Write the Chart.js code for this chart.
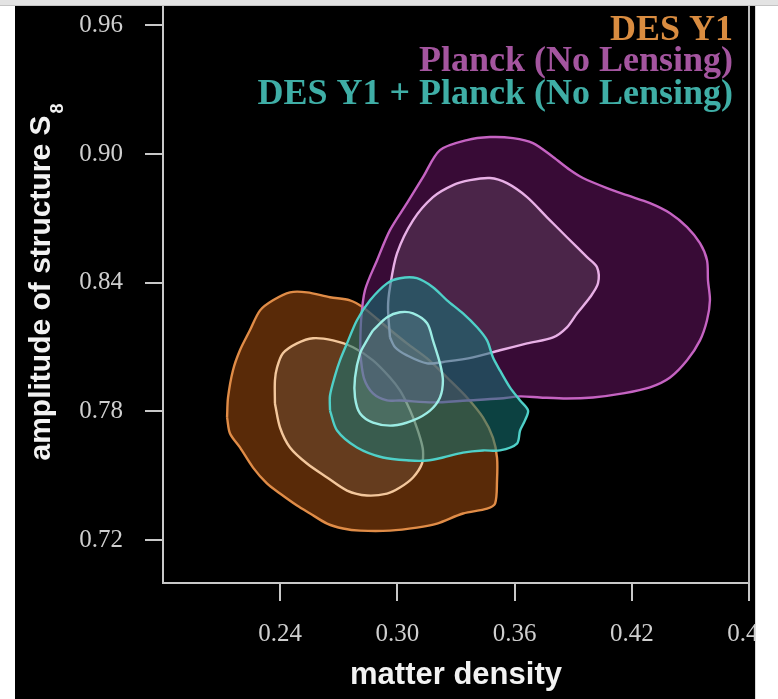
<!DOCTYPE html>
<html><head><meta charset="utf-8">
<script src="https://cdn.jsdelivr.net/npm/chart.js@4.4.1/dist/chart.umd.min.js"></script>
<style>
html,body{margin:0;padding:0;background:#fff;width:778px;height:699px;overflow:hidden;}
#topbar{position:absolute;left:0;top:0;width:778px;height:5px;background:#e3e3e3;border-bottom:1px solid #c4c4c4;}
#panel{position:absolute;left:15px;top:6px;width:740px;height:693px;background:#000;}
#edge{position:absolute;left:755px;top:6px;width:1px;height:693px;background:#d8d8d8;}
</style></head><body>
<div id="topbar"></div>
<div id="panel"><canvas id="c" width="740" height="693"></canvas></div>
<div id="edge"></div>
<script>
// ---- data (matter density, S8) ----
const xTicks = [0.24, 0.30, 0.36, 0.42, 0.48];
const yTicks = [0.72, 0.78, 0.84, 0.90, 0.96];
const legendLabels = ['DES Y1', 'Planck (No Lensing)', 'DES Y1 + Planck (No Lensing)'];

const desOuter = [[0.2128,0.7772],[0.2133,0.7865],[0.2158,0.7991],[0.2194,0.8085],[0.2245,0.8178],[0.2297,0.8271],[0.2363,0.8318],[0.2450,0.8355],[0.2537,0.8355],[0.2655,0.8332],[0.2757,0.8318],[0.2824,0.8285],[0.2947,0.8192],[0.3049,0.8117],[0.3152,0.8047],[0.3254,0.7958],[0.3356,0.7865],[0.3438,0.7772],[0.3489,0.7678],[0.3510,0.7585],[0.3510,0.7478],[0.3500,0.7370],[0.3459,0.7347],[0.3336,0.7324],[0.3203,0.7277],[0.3100,0.7258],[0.2962,0.7244],[0.2809,0.7244],[0.2722,0.7254],[0.2640,0.7277],[0.2553,0.7324],[0.2486,0.7361],[0.2399,0.7417],[0.2332,0.7464],[0.2261,0.7538],[0.2194,0.7632],[0.2143,0.7697]];
const desInner = [[0.2373,0.7837],[0.2373,0.7944],[0.2384,0.8005],[0.2414,0.8071],[0.2486,0.8117],[0.2568,0.8141],[0.2670,0.8131],[0.2773,0.8099],[0.2875,0.8038],[0.2962,0.7958],[0.3013,0.7898],[0.3049,0.7837],[0.3080,0.7772],[0.3116,0.7678],[0.3131,0.7618],[0.3126,0.7557],[0.3080,0.7492],[0.3013,0.7445],[0.2947,0.7417],[0.2844,0.7408],[0.2742,0.7431],[0.2640,0.7492],[0.2537,0.7557],[0.2450,0.7632],[0.2399,0.7725]];
const planckOuter = [[0.2809,0.8071],[0.2814,0.8225],[0.2834,0.8365],[0.2896,0.8505],[0.2962,0.8645],[0.3049,0.8771],[0.3131,0.8892],[0.3218,0.9018],[0.3356,0.9065],[0.3474,0.9079],[0.3592,0.9074],[0.3694,0.9051],[0.3797,0.8986],[0.3884,0.8925],[0.3950,0.8888],[0.4073,0.8841],[0.4175,0.8808],[0.4293,0.8771],[0.4396,0.8724],[0.4483,0.8659],[0.4549,0.8584],[0.4585,0.8505],[0.4590,0.8411],[0.4600,0.8318],[0.4585,0.8225],[0.4549,0.8131],[0.4483,0.8038],[0.4396,0.7958],[0.4293,0.7912],[0.4155,0.7884],[0.4001,0.7865],[0.3868,0.7860],[0.3730,0.7865],[0.3628,0.7870],[0.3525,0.7860],[0.3356,0.7851],[0.3182,0.7842],[0.3013,0.7851],[0.2947,0.7851],[0.2875,0.7884],[0.2829,0.7954]];
const planckInner = [[0.2962,0.8145],[0.2952,0.8285],[0.2962,0.8379],[0.2998,0.8537],[0.3080,0.8691],[0.3182,0.8799],[0.3285,0.8855],[0.3372,0.8878],[0.3474,0.8888],[0.3561,0.8864],[0.3664,0.8799],[0.3766,0.8705],[0.3868,0.8612],[0.3971,0.8519],[0.4022,0.8472],[0.4027,0.8397],[0.3986,0.8332],[0.3920,0.8257],[0.3868,0.8192],[0.3797,0.8145],[0.3664,0.8117],[0.3525,0.8085],[0.3387,0.8052],[0.3254,0.8033],[0.3152,0.8024],[0.3049,0.8061],[0.2988,0.8099]];
const comboOuter = [[0.2655,0.7804],[0.2655,0.7874],[0.2681,0.7968],[0.2706,0.8038],[0.2742,0.8117],[0.2793,0.8225],[0.2860,0.8318],[0.2947,0.8397],[0.3013,0.8421],[0.3100,0.8421],[0.3182,0.8379],[0.3254,0.8318],[0.3336,0.8257],[0.3408,0.8192],[0.3459,0.8131],[0.3489,0.8052],[0.3525,0.7991],[0.3576,0.7912],[0.3628,0.7851],[0.3669,0.7804],[0.3653,0.7758],[0.3628,0.7711],[0.3612,0.7650],[0.3525,0.7618],[0.3438,0.7618],[0.3336,0.7608],[0.3233,0.7585],[0.3152,0.7571],[0.3065,0.7571],[0.2926,0.7585],[0.2793,0.7632],[0.2691,0.7711]];
const comboInner = [[0.2875,0.8178],[0.2947,0.8239],[0.3013,0.8262],[0.3080,0.8257],[0.3152,0.8211],[0.3182,0.8131],[0.3218,0.8024],[0.3233,0.7944],[0.3218,0.7865],[0.3167,0.7804],[0.3080,0.7758],[0.2977,0.7734],[0.2875,0.7748],[0.2809,0.7790],[0.2783,0.7865],[0.2783,0.7958],[0.2809,0.8071],[0.2844,0.8131]];

// ---- build datasets ----
function closed(arr){ const pts = arr.map(p => ({x:p[0], y:p[1]})); pts.push({x:arr[0][0], y:arr[0][1]}); return pts; }
function contour(arr, line, area, order){
  return {data: closed(arr), showLine:true, borderColor:line, borderWidth:2.4, pointRadius:0,
          tension:0.3, fill:false, areaColor:area, order:order};
}
const datasets = [
  contour(desOuter,   '#e08c47', 'rgba(185,88,16,0.48)', 6),
  contour(desInner,   '#f3c79c', 'rgba(175,165,160,0.15)', 5),
  contour(planckOuter,'#c563c2', 'rgba(112,22,108,0.50)', 4),
  contour(planckInner,'#e8b0e6', 'rgba(190,190,190,0.15)', 3),
  contour(comboOuter, '#4fd0c8', 'rgba(22,118,118,0.55)', 2),
  contour(comboInner, '#9cece4', 'rgba(180,210,210,0.15)', 1)
];
const legendColors = ['#d98c40', '#a4559f', '#3faea6'];

const contourFill = {
  id:'contourFill',
  beforeDatasetDraw(chart, args){
    const ds = chart.data.datasets[args.index];
    const meta = args.meta;
    if(!ds.areaColor) return;
    const ctx = chart.ctx, a = chart.chartArea;
    ctx.save();
    ctx.beginPath(); ctx.rect(a.left, a.top, a.width, a.height); ctx.clip();
    ctx.beginPath();
    let done = false;
    try {
      const line = meta.dataset;
      if(line && line.path){
        if(line.updateControlPoints) line.updateControlPoints(a, 'x');
        line.path(ctx); done = true;
      }
    } catch(e){ done = false; }
    if(!done){
      ctx.beginPath();
      meta.data.forEach((p,i)=>{ if(i===0) ctx.moveTo(p.x,p.y); else ctx.lineTo(p.x,p.y); });
    }
    ctx.closePath();
    ctx.fillStyle = ds.areaColor;
    ctx.fill();
    ctx.restore();
  }
};

const decorations = {
  id:'decorations',
  afterDraw(chart){
    const ctx = chart.ctx, a = chart.chartArea;
    // right frame line
    ctx.save();
    ctx.strokeStyle = '#bdbdbd'; ctx.lineWidth = 2;
    ctx.beginPath(); ctx.moveTo(a.right, a.top); ctx.lineTo(a.right, a.bottom); ctx.stroke();
    // legend
    ctx.font = 'bold 36px "Liberation Serif"';
    ctx.textAlign = 'right'; ctx.textBaseline = 'alphabetic';
    const base = [34, 65, 98];
    legendLabels.forEach((t,i)=>{ ctx.fillStyle = legendColors[i]; ctx.fillText(t, 718, base[i]); });
    // y title with subscript
    ctx.translate(35, 276); ctx.rotate(-Math.PI/2);
    const main = 'amplitude of structure S', sub = '8';
    ctx.font = 'bold 30px "Liberation Sans"';
    const w1 = ctx.measureText(main).width;
    ctx.font = 'bold 18px "Liberation Sans"';
    const w2 = ctx.measureText(sub).width;
    const start = -(w1 + w2 + 2)/2;
    ctx.fillStyle = '#f2f2f2'; ctx.textAlign = 'left';
    ctx.font = 'bold 30px "Liberation Sans"';
    ctx.fillText(main, start, 0);
    ctx.font = 'bold 18px "Liberation Sans"';
    ctx.fillText(sub, start + w1 + 2, 13);
    ctx.restore();
  }
};

new Chart(document.getElementById('c'), {
  type:'scatter',
  data:{datasets},
  plugins:[contourFill, decorations],
  options:{
    responsive:false, animation:false,
    layout:{padding:{left:0,right:6,top:0,bottom:0}, autoPadding:false},
    plugins:{legend:{display:false}, tooltip:{enabled:false}},
    scales:{
      x:{type:'linear', min:0.18, max:0.48, position:'bottom',
        afterBuildTicks(s){ s.ticks = xTicks.map(v=>({value:v})); },
        afterFit(s){ s.height = 116; s.paddingLeft = 0; s.paddingRight = 0; },
        border:{display:true, color:'#c8c8c8', width:2},
        grid:{drawOnChartArea:false, drawTicks:true, tickLength:18, color:'#c8c8c8', lineWidth:2},
        ticks:{padding:18, color:'#cfcfcf', font:{family:'"Liberation Serif"', size:25}, maxRotation:0,
               autoSkip:false, callback:v=>v.toFixed(2)},
        title:{display:true, text:'matter density', color:'#f2f2f2',
               font:{family:'"Liberation Sans"', size:31, weight:'bold'}, padding:{top:0,bottom:5}}
      },
      y:{type:'linear', min:0.70, max:0.969, position:'left',
        afterBuildTicks(s){ s.ticks = yTicks.map(v=>({value:v})); },
        afterFit(s){ s.width = 148; s.paddingTop = 0; s.paddingBottom = 0; },
        border:{display:true, color:'#c8c8c8', width:2},
        grid:{drawOnChartArea:false, drawTicks:true, tickLength:18, color:'#c8c8c8', lineWidth:2},
        ticks:{padding:22, color:'#cfcfcf', font:{family:'"Liberation Serif"', size:25},
               autoSkip:false, callback:v=>v.toFixed(2)}
      }
    }
  }
});
</script>
</body></html>
